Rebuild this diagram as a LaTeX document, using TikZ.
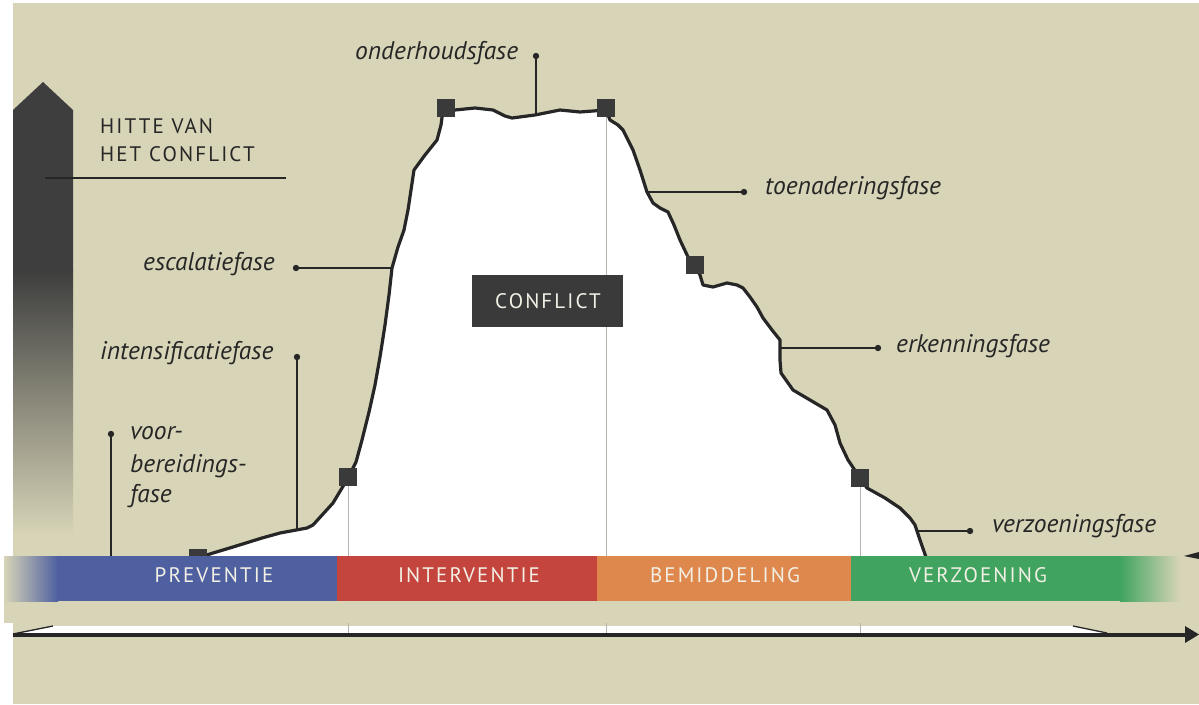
\documentclass[tikz,border=0pt]{standalone}
\usepackage{fontspec}
\setmainfont{PT Sans}
\newfontfamily\capsfont[LetterSpace=10]{PT Sans}
\newfontfamily\labfont{PT Sans}
\definecolor{bg}{RGB}{215,212,183}
\definecolor{ink}{RGB}{38,38,38}
\definecolor{arrowdark}{RGB}{62,62,62}
\definecolor{bblue}{RGB}{78,96,160}
\definecolor{bred}{RGB}{196,68,62}
\definecolor{borange}{RGB}{222,136,78}
\definecolor{bgreen}{RGB}{64,164,96}
\definecolor{guide}{RGB}{180,180,172}
\definecolor{boxgray}{RGB}{58,58,58}
\definecolor{bandtext}{RGB}{242,240,228}
\tikzset{
  lab/.style={font=\labfont\itshape\fontsize{25.5}{30}\selectfont, text=ink, inner sep=0pt, anchor=mid west},
  capslab/.style={font=\capsfont\fontsize{21}{24}\selectfont, inner sep=0pt},
  bandlab/.style={capslab, text=bandtext, anchor=base},
  leader/.style={draw=ink, line width=1.3pt},
  dotc/.style={fill=ink},
  sq/.style={fill=boxgray, minimum size=18pt, inner sep=0pt, draw=none},
  curve/.style={draw=ink, line width=3.2pt, line join=round, line cap=round},
  guideline/.style={draw=guide, line width=1pt}
}
\begin{document}
\begin{tikzpicture}[x=1pt,y=-1pt]
\useasboundingbox (0,0) rectangle (1199,704);
% background
\fill[bg] (0,0) rectangle (1199,704);
\fill[white] (0,0) rectangle (1199,3);
\fill[white] (0,0) rectangle (13,556);
\fill[white] (0,623) rectangle (13,704);
\fill[white] (0,556) rectangle (4,623);
% vertical heat arrow
\fill[arrowdark] (13,272) -- (13,110) -- (43,82) -- (73,110) -- (73,272) -- cycle;
\shade[top color=arrowdark, bottom color=bg] (13,271) rectangle (73,535);
% hill
\fill[white] (198,558) -- (213,553) -- (233,547) -- (262,538) -- (280,533) -- (307,528) -- (313,525) -- (333,503) -- (348,478) -- (356,462) -- (362,440) -- (369,412) -- (375,385) -- (380,357) -- (385,325) -- (389,295) -- (392,268) -- (398,247) -- (404,230) -- (408,210) -- (411,190) -- (414,170) -- (425,155) -- (437,140) -- (441,125) -- (443,110) -- (446,108) -- (455,110) -- (475,108) -- (493,110) -- (505,116) -- (512,118) -- (535,115) -- (560,110) -- (580,112) -- (606,110) -- (610,120) -- (618,125) -- (623,130) -- (628,140) -- (633,150) -- (640,170) -- (647,192) -- (653,203) -- (660,208) -- (668,212) -- (674,225) -- (680,240) -- (688,257) -- (695,266) -- (700,275) -- (703,285) -- (713,287) -- (727,283) -- (737,285) -- (743,288) -- (750,297) -- (757,307) -- (763,318) -- (772,330) -- (780,340) -- (780,360) -- (781,373) -- (793,390) -- (810,400) -- (827,410) -- (835,425) -- (840,443) -- (848,460) -- (860,478) -- (867,488) -- (885,498) -- (900,508) -- (910,518) -- (915,525) -- (920,540) -- (927,560) -- cycle;
% white strip above the axis
\fill[white] (13,634) -- (53,626) -- (1073,626) -- (1107,633) -- cycle;
% squares positions
\coordinate (p1) at (198,558);
\coordinate (p2) at (348,477);
\coordinate (p3) at (446,108);
\coordinate (p4) at (606,108);
\coordinate (p5) at (695,265);
\coordinate (p6) at (860,478);
\coordinate (axL) at (13,634.5);
\coordinate (axR) at (1199,634.5);
% guide lines
\draw[guideline] (p2) -- (p2 |- axL);
\draw[guideline] (p4) -- (p4 |- axL);
\draw[guideline] (p6) -- (p6 |- axL);
% conflict box
\node[fill=boxgray, minimum width=151pt, minimum height=52pt, inner sep=0pt] (conflict) at (547.5,301) {};
\node[capslab, text=bandtext, anchor=base] (conflicttxt) at (548,308) {CONFLICT};
% curve
\draw[curve] (198,558) -- (213,553) -- (233,547) -- (262,538) -- (280,533) -- (307,528) -- (313,525) -- (333,503) -- (348,478) -- (356,462) -- (362,440) -- (369,412) -- (375,385) -- (380,357) -- (385,325) -- (389,295) -- (392,268) -- (398,247) -- (404,230) -- (408,210) -- (411,190) -- (414,170) -- (425,155) -- (437,140) -- (441,125) -- (443,110) -- (446,108) -- (455,110) -- (475,108) -- (493,110) -- (505,116) -- (512,118) -- (535,115) -- (560,110) -- (580,112) -- (606,110) -- (610,120) -- (618,125) -- (623,130) -- (628,140) -- (633,150) -- (640,170) -- (647,192) -- (653,203) -- (660,208) -- (668,212) -- (674,225) -- (680,240) -- (688,257) -- (695,266) -- (700,275) -- (703,285) -- (713,287) -- (727,283) -- (737,285) -- (743,288) -- (750,297) -- (757,307) -- (763,318) -- (772,330) -- (780,340) -- (780,360) -- (781,373) -- (793,390) -- (810,400) -- (827,410) -- (835,425) -- (840,443) -- (848,460) -- (860,478) -- (867,488) -- (885,498) -- (900,508) -- (910,518) -- (915,525) -- (920,540) -- (927,560);
\foreach \p in {p1,p2,p3,p4,p5,p6} \node[sq] (sq\p) at (\p) {};
% heat label
\coordinate (heatA) at (45,178);
\coordinate (heatB) at (286,178);
\draw[leader] (heatA) -- (heatB);
\node[capslab, text=ink, anchor=base west] (hitte1) at (100,133) {HITTE VAN};
\node[capslab, text=ink, anchor=base west] (hitte2) at (100,161) {HET CONFLICT};
% phase labels
\coordinate (dOnd) at (536,56);   \coordinate (cOnd) at (536,115);
\coordinate (dToe) at (744,192);  \coordinate (cToe) at (647,192);
\coordinate (dErk) at (878,348);  \coordinate (cErk) at (780,348);
\coordinate (dVer) at (970,531);  \coordinate (cVer) at (917,531);
\coordinate (dEsc) at (296,268);  \coordinate (cEsc) at (392,268);
\coordinate (dInt) at (297,357);  \coordinate (cInt) at (297,529);
\coordinate (dVoo) at (111,434);  \coordinate (cVoo) at (111,560);
\foreach \a/\b in {dOnd/cOnd,dToe/cToe,dErk/cErk,dVer/cVer,dEsc/cEsc,dInt/cInt,dVoo/cVoo} {
  \draw[leader] (\a) -- (\b);
  \fill[dotc] (\a) circle (3.2pt);
}
\node[lab] (onderhoud) at (355,57) {onderhoudsfase};
\node[lab] (toenadering) at (765,192) {toenaderingsfase};
\node[lab] (erkenning) at (896,350) {erkenningsfase};
\node[lab] (verzoening) at (992,530) {verzoeningsfase};
\node[lab] (escalatie) at (143,268) {escalatiefase};
\node[lab] (intensificatie) at (100,357) {intensificatiefase};
\node[lab] (voor1) at (130,437) {voor-};
\node[lab] (voor2) at (130,470) {bereidings-};
\node[lab] (voor3) at (130,500) {fase};
% band
\fill[bg] (4,556) rectangle (1199,623);
\shade[left color=bg, right color=bblue] (4,556) rectangle (58,601);
\fill[bblue] (57,556) rectangle (338,601);
\fill[bred] (337,556) rectangle (598,601);
\fill[borange] (597,556) rectangle (852,601);
\fill[bgreen] (851,556) rectangle (1121,601);
\shade[left color=bgreen, right color=bg] (1120,556) rectangle (1180,601);
\fill[ink] (1184,556) -- (1199,552) -- (1199,559) -- cycle;
\node[bandlab] (preventie) at (214,582) {PREVENTIE};
\node[bandlab] (interventie) at (469,582) {INTERVENTIE};
\node[bandlab] (bemiddeling) at (725,582) {BEMIDDELING};
\node[bandlab] (verzoeningB) at (978,582) {VERZOENING};
% axis
\draw[ink, line width=1.3pt] (13,634) -- (53,626);
\draw[ink, line width=1.3pt] (1073,626) -- (1107,633);
\draw[ink, line width=4pt] (axL) -- (1189,634.5);
\fill[ink] (1185,626) -- (axR) -- (1185,643) -- cycle;
\end{tikzpicture}
\end{document}
